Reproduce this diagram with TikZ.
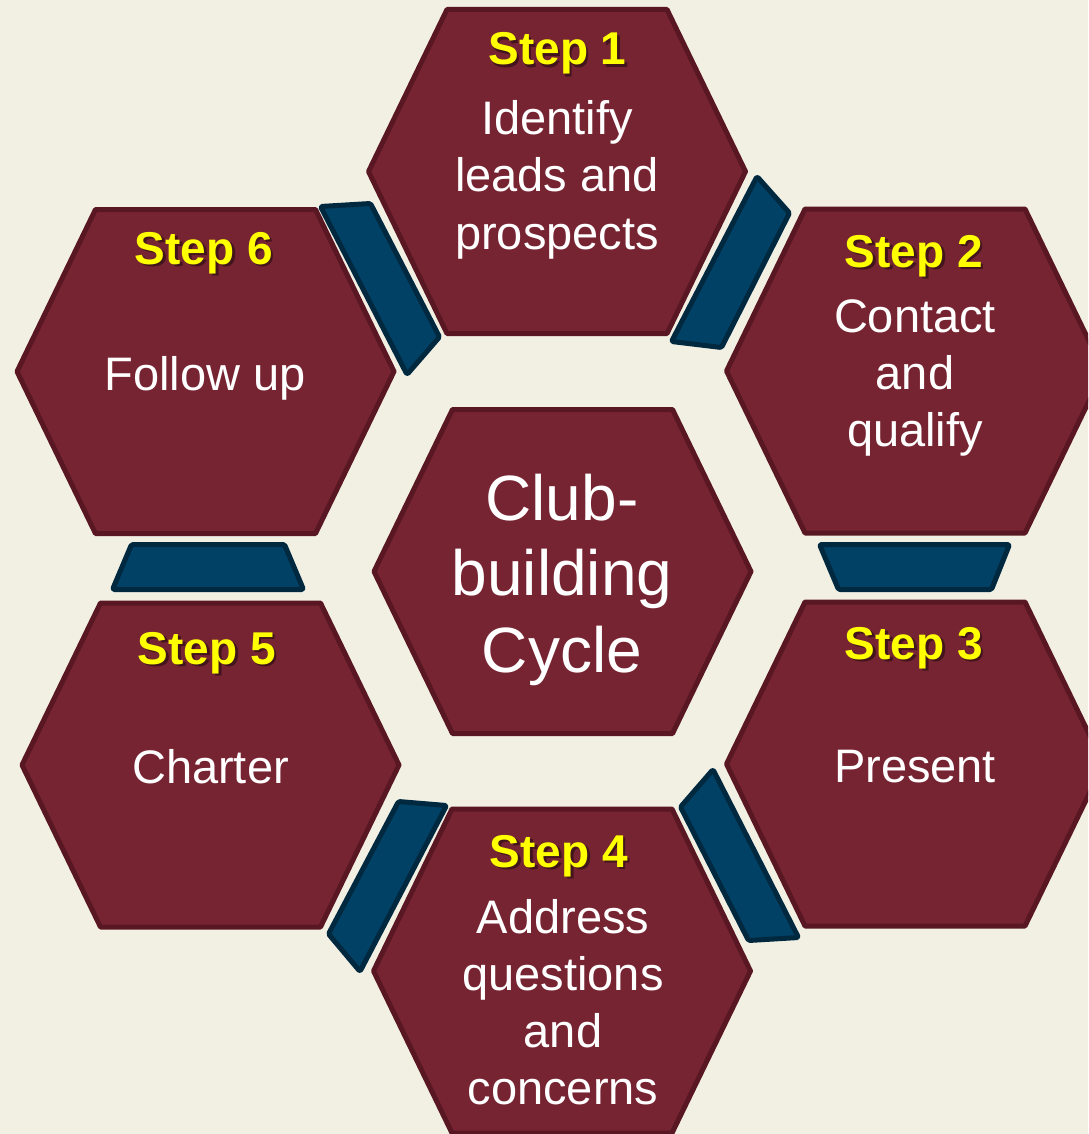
\documentclass[tikz,border=0pt]{standalone}
\usepackage{fontspec}
\setmainfont{Liberation Sans}
\usetikzlibrary{calc}

\definecolor{bg}{HTML}{F2EFE3}
\definecolor{cellfill}{HTML}{772432}
\definecolor{celledge}{HTML}{581722}
\definecolor{linkfill}{HTML}{004165}
\definecolor{linkedge}{HTML}{00283F}
\definecolor{steptext}{HTML}{FFFF00}
\colorlet{stepshade}{cellfill!55!black}

\tikzset{
  cell/.style={fill=cellfill, draw=celledge, line width=5pt, line join=round},
  link/.style={fill=linkfill, draw=linkedge, line width=5pt, line join=round, rounded corners=1.5pt},
  steplabel/.style={font=\fontsize{46}{55}\selectfont\bfseries, text=steptext, anchor=base, inner sep=0pt},
  body/.style={font=\fontsize{47}{57}\selectfont, text=white, anchor=base, inner sep=0pt},
  title/.style={font=\fontsize{64}{77}\selectfont, text=white, anchor=base, inner sep=0pt},
}

% hexagonal cell centred at (#2,#3), named #1
\newcommand\hexcell[3]{%
  \coordinate (#1) at (#2,#3);
  \draw[cell] (#2-188.5,#3) -- (#2-110,#3-162) -- (#2+110,#3-162)
    -- (#2+188.5,#3) -- (#2+110,#3+162) -- (#2-110,#3+162) -- cycle;
}
% text with a dark drop shadow set behind it
\newcommand\shadowed[1]{%
  \rlap{\kern2.5pt\raisebox{-2.5pt}{\textcolor{stepshade}{#1}}}#1}
% yellow step heading
\newcommand\stephead[4]{%
  \node[steplabel] (#1) at (#2,#3) {\shadowed{#4}};
}

\begin{document}
\begin{tikzpicture}[x=1pt,y=-1pt]
  \fill[bg] (0,0) rectangle (1088,1134);
  \useasboundingbox (0,0) rectangle (1088,1134);
  \clip (0,0) rectangle (1088,1134);

  % cells
  \hexcell{core}{562.5}{571.5}
  \hexcell{c1}{557}{171.5}
  \hexcell{c2}{915}{371}
  \hexcell{c3}{915}{764}
  \hexcell{c4}{562}{971}
  \hexcell{c5}{210.5}{765}
  \hexcell{c6}{205.5}{371.5}

  % links between neighbouring cells
  \draw[link] (320.5,206.5) -- (370.5,203.5) -- (439.5,337) -- (407,374.5) -- cycle;
  \draw[link] (757,176.5) -- (789.5,213) -- (721.5,347.5) -- (671.5,341.5) -- cycle;
  \draw[link] (819.5,544.5) -- (1009.5,544.5) -- (991.5,589.5) -- (838.5,589.5) -- cycle;
  \draw[link] (713,769.5) -- (680.5,807) -- (748.5,940.5) -- (798.5,937.5) -- cycle;
  \draw[link] (398.5,801.5) -- (446.5,805.5) -- (360,971.5) -- (328.5,934) -- cycle;
  \draw[link] (131.5,544.5) -- (284.5,544.5) -- (303.5,589.5) -- (112.5,589.5) -- cycle;

  % centre
  \node[title] (t1) at (562,520) {Club-};
  \node[title] (t2) at (562,595) {building};
  \node[title] (t3) at (562,672) {Cycle};

  % step 1
  \stephead{h1}{557.5}{65}{Step 1}
  \node[body] (b1a) at (557,135) {Identify};
  \node[body] (b1b) at (557,192) {leads and};
  \node[body] (b1c) at (557,249) {prospects};

  % step 2
  \stephead{h2}{914}{267}{Step 2}
  \node[body] (b2a) at (915,332) {Contact};
  \node[body] (b2b) at (915,389) {and};
  \node[body] (b2c) at (915,446) {qualify};

  % step 3
  \stephead{h3}{914}{659}{Step 3}
  \node[body] (b3a) at (915,782) {Present};

  % step 4
  \stephead{h4}{559}{867}{Step 4}
  \node[body] (b4a) at (563,933) {Address};
  \node[body] (b4b) at (563,990) {questions};
  \node[body] (b4c) at (563,1047) {and};
  \node[body] (b4d) at (563,1104) {concerns};

  % step 5
  \stephead{h5}{207}{664}{Step 5}
  \node[body] (b5a) at (210.5,783) {Charter};

  % step 6
  \stephead{h6}{204}{264}{Step 6}
  \node[body] (b6a) at (205,390) {Follow up};
\end{tikzpicture}
\end{document}
